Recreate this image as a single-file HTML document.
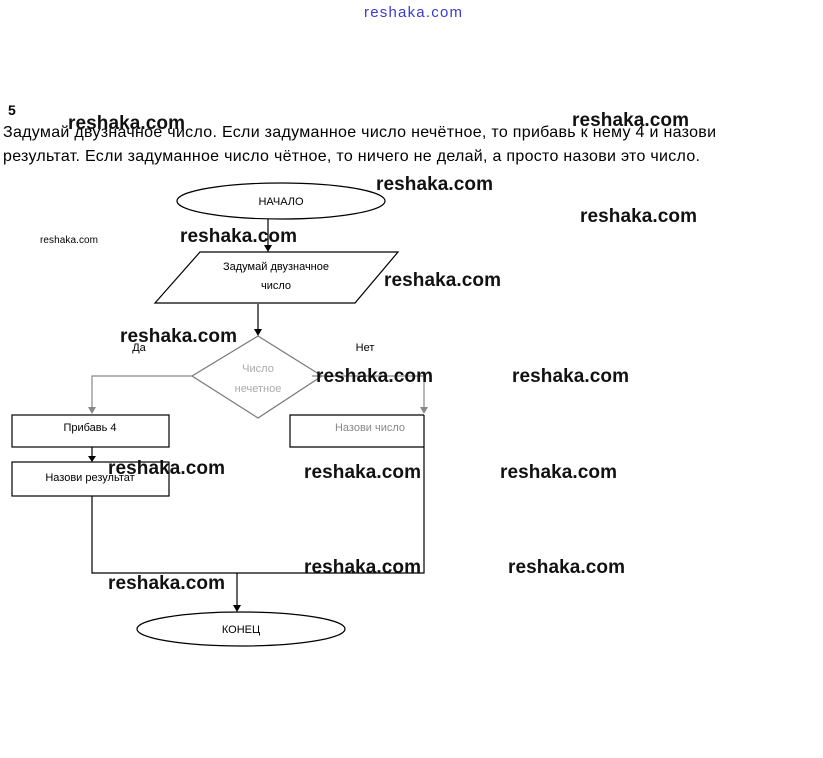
<!DOCTYPE html>
<html><head><meta charset="utf-8"><style>
body{margin:0;width:823px;height:758px;background:#fff;overflow:hidden}
svg{display:block}
</style></head><body>
<svg width="823" height="758" xmlns="http://www.w3.org/2000/svg" font-family="Liberation Sans, DejaVu Sans, sans-serif">
<text x="364" y="17" font-size="15" fill="#3b3bd0" textLength="98">reshaka.com</text>
<text x="8" y="115" font-size="14" font-weight="bold">5</text>
<text x="3" y="137" font-size="16" textLength="713">Задумай двузначное число. Если задуманное число нечётное, то прибавь к нему 4 и назови</text>
<text x="3" y="161" font-size="16" textLength="697">результат. Если задуманное число  чётное, то ничего не делай, а просто назови это число.</text>
<g fill="none" stroke="#000" stroke-width="1.2">
<ellipse cx="281" cy="201" rx="104" ry="18"/>
<polygon points="200,252 398,252 355,303 155,303"/>
<polygon points="258,336 322,376 258,418 192,376" stroke="#777"/>
<polyline points="192,376 92,376 92,412" stroke="#888"/>
<polyline points="312,376 424,376 424,412" stroke="#888"/>
<rect x="12" y="415" width="157" height="32"/>
<polyline points="424,415 290,415 290,447 424,447"/>
<rect x="12" y="462" width="157" height="34"/>
<polyline points="92,496 92,573 424,573 424,415"/>
<ellipse cx="241" cy="629" rx="104" ry="17"/>
<line x1="268" y1="219" x2="268" y2="247"/>
<line x1="258" y1="304" x2="258" y2="330"/>
<line x1="92" y1="447" x2="92" y2="457"/>
<line x1="237" y1="573" x2="237" y2="606"/>
</g>
<g fill="#000">
<path d="M264,245 L272,245 L268,252 z"/>
<path d="M254,329 L262,329 L258,336 z"/>
<path d="M88,456 L96,456 L92,462 z"/>
<path d="M233,605 L241,605 L237,612 z"/>
<path d="M88,407 L96,407 L92,414 z" fill="#888"/>
<path d="M420,407 L428,407 L424,414 z" fill="#888"/>
</g>
<g font-size="11" text-anchor="middle">
<text x="281" y="205">НАЧАЛО</text>
<text x="276" y="270">Задумай двузначное</text>
<text x="276" y="289">число</text>
<text x="258" y="372" fill="#aaa">Число</text>
<text x="258" y="392" fill="#aaa">нечетное</text>
<text x="90" y="431">Прибавь 4</text>
<text x="370" y="431" fill="#888">Назови число</text>
<text x="90" y="481">Назови результат</text>
<text x="241" y="633">КОНЕЦ</text>
<text x="139" y="351">Да</text>
<text x="365" y="351">Нет</text>
</g>
<g font-size="19" font-weight="bold" fill="#111">
<text x="68" y="129" textLength="117">reshaka.com</text>
<text x="572" y="126" textLength="117">reshaka.com</text>
<text x="376" y="190" textLength="117">reshaka.com</text>
<text x="580" y="222" textLength="117">reshaka.com</text>
<text x="180" y="242" textLength="117">reshaka.com</text>
<text x="384" y="286" textLength="117">reshaka.com</text>
<text x="120" y="342" textLength="117">reshaka.com</text>
<text x="316" y="382" textLength="117">reshaka.com</text>
<text x="512" y="382" textLength="117">reshaka.com</text>
<text x="108" y="474" textLength="117">reshaka.com</text>
<text x="304" y="478" textLength="117">reshaka.com</text>
<text x="500" y="478" textLength="117">reshaka.com</text>
<text x="108" y="589" textLength="117">reshaka.com</text>
<text x="304" y="573" textLength="117">reshaka.com</text>
<text x="508" y="573" textLength="117">reshaka.com</text>
</g>
<text x="40" y="243" font-size="10" textLength="58">reshaka.com</text>
</svg>
</body></html>
